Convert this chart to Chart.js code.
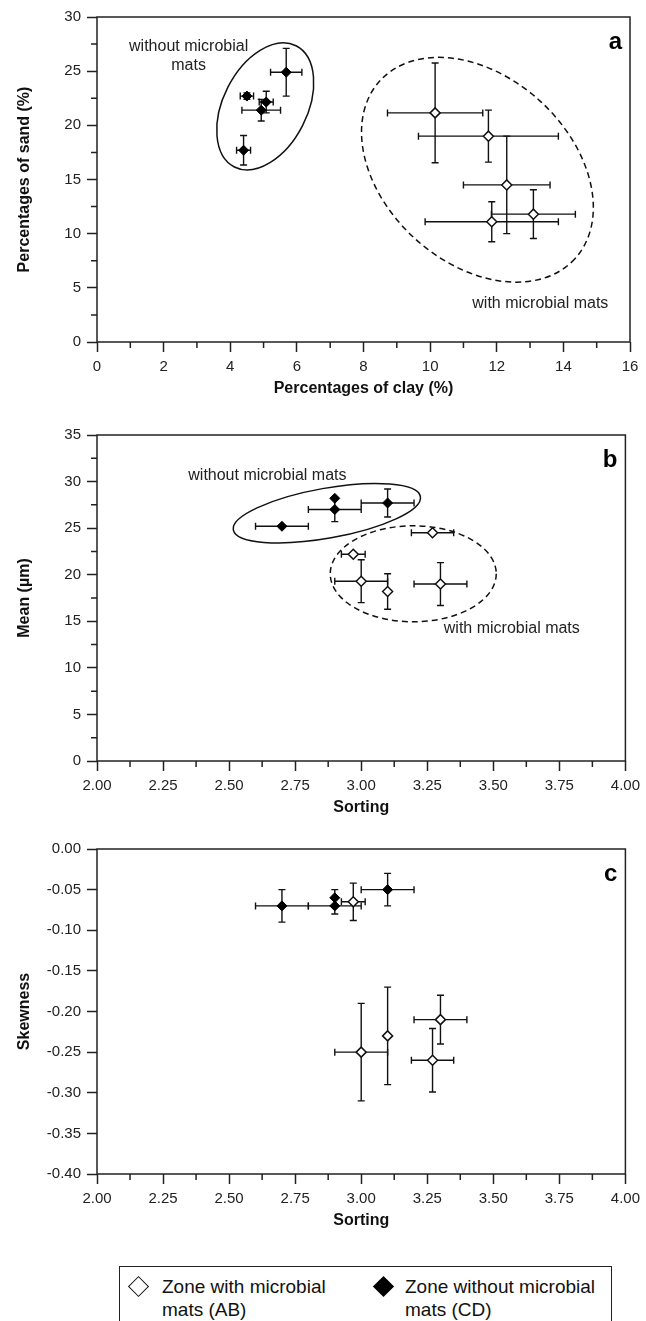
<!DOCTYPE html>
<html>
<head>
<meta charset="utf-8">
<script src="https://cdn.jsdelivr.net/npm/chart.js@4.4.1/dist/chart.umd.min.js"></script>
<style>
  body { margin: 0; background: #fff; width: 646px; height: 1321px; position: relative; overflow: hidden;
         font-family: "Liberation Sans", Arial, Helvetica, sans-serif; }
  canvas { position: absolute; left: 0; }
  #legend { position: absolute; left: 119px; top: 1266px; width: 493px; height: 70px;
            border: 1.5px solid #222; box-sizing: border-box; }
  #legend .mk { position: absolute; width: 15px; height: 15px; box-sizing: border-box; transform: rotate(45deg); }
  #legend .open { border: 1.5px solid #111; background: #fff; }
  #legend .fill { background: #000; }
  #legend .txt { position: absolute; font-size: 19px; line-height: 23px; color: #111; white-space: nowrap; }
</style>
</head>
<body>
<canvas id="chartA" width="646" height="405" style="top:0px"></canvas>
<canvas id="chartB" width="646" height="415" style="top:410px"></canvas>
<canvas id="chartC" width="646" height="422" style="top:828px"></canvas>
<div id="legend">
  <span class="mk open" style="left:11px;top:12px"></span>
  <div class="txt" style="left:42px;top:8px">Zone with microbial<br>mats (AB)</div>
  <span class="mk fill" style="left:256px;top:12px"></span>
  <div class="txt" style="left:285px;top:8px">Zone without microbial<br>mats (CD)</div>
</div>
<script>
// a: clay vs sand
const clayWith = [10.15, 11.75, 12.3, 11.85, 13.1];
const clayWithErr = [1.43, 2.1, 1.3, 2.0, 1.26];
const sandWith = [21.15, 19.0, 14.5, 11.1, 11.8];
const sandWithErr = [4.6, 2.4, 4.5, 1.85, 2.25];
const clayWithout = [5.68, 4.5, 5.08, 4.93, 4.4];
const clayWithoutErr = [0.47, 0.2, 0.21, 0.58, 0.21];
const sandWithout = [24.9, 22.7, 22.15, 21.4, 17.7];
const sandWithoutErr = [2.2, 0.3, 1.0, 1.0, 1.36];

// b and c share the sorting values
const sortingWith = [3.27, 2.97, 3.0, 3.1, 3.3];
const sortingWithErr = [0.08, 0.045, 0.1, 0, 0.1];
const sortingWithout = [2.7, 2.9, 2.9, 3.1];
const sortingWithoutErr = [0.1, 0, 0.1, 0.1];

const meanWith = [24.5, 22.2, 19.3, 18.2, 19.0];
const meanWithErr = [0, 0, 2.3, 1.9, 2.3];
const meanWithout = [25.2, 28.2, 27.0, 27.7];
const meanWithoutErr = [0, 0, 1.3, 1.5];

const skewWith = [-0.26, -0.065, -0.25, -0.23, -0.21];
const skewWithErr = [0.039, 0.023, 0.06, 0.06, 0.03];
const skewWithout = [-0.07, -0.06, -0.07, -0.05];
const skewWithoutErr = [0.02, 0.01, 0.01, 0.02];

Chart.defaults.font.family = '"Liberation Sans", Arial, Helvetica, sans-serif';
Chart.defaults.color = '#222';

const isMajor = (v, step) => Math.abs(v / step - Math.round(v / step)) < 1e-6;

function pts(xs, ys) {
  return xs.map((x, i) => ({ x: x, y: ys[i] }));
}

// error bars under the markers
const errorBars = {
  id: 'errorBars',
  beforeDatasetsDraw(chart) {
    const { ctx, scales: { x, y } } = chart;
    const cap = 3.5;
    ctx.save();
    ctx.strokeStyle = '#111';
    ctx.lineWidth = 1.4;
    chart.data.datasets.forEach(ds => {
      ds.data.forEach((p, i) => {
        const px = x.getPixelForValue(p.x), py = y.getPixelForValue(p.y);
        const xe = ds.xErr[i], ye = ds.yErr[i];
        ctx.beginPath();
        if (xe) {
          const l = x.getPixelForValue(p.x - xe), r = x.getPixelForValue(p.x + xe);
          ctx.moveTo(l, py); ctx.lineTo(r, py);
          ctx.moveTo(l, py - cap); ctx.lineTo(l, py + cap);
          ctx.moveTo(r, py - cap); ctx.lineTo(r, py + cap);
        }
        if (ye) {
          const t = y.getPixelForValue(p.y + ye), b = y.getPixelForValue(p.y - ye);
          ctx.moveTo(px, t); ctx.lineTo(px, b);
          ctx.moveTo(px - cap, t); ctx.lineTo(px + cap, t);
          ctx.moveTo(px - cap, b); ctx.lineTo(px + cap, b);
        }
        ctx.stroke();
      });
    });
    ctx.restore();
  }
};

// group outlines, notes, frame, minor ticks and panel letter
const decor = {
  id: 'decor',
  beforeDatasetsDraw(chart, args, opts) {
    const { ctx, scales: { x, y } } = chart;
    ctx.save();
    ctx.strokeStyle = '#111';
    ctx.lineWidth = 1.5;
    (opts.ellipses || []).forEach(e => {
      ctx.setLineDash(e.dashed ? [6, 4] : []);
      ctx.beginPath();
      ctx.ellipse(x.getPixelForValue(e.cx), y.getPixelForValue(e.cy), e.rx, e.ry, e.rot, 0, Math.PI * 2);
      ctx.stroke();
    });
    ctx.setLineDash([]);
    ctx.fillStyle = '#222';
    ctx.font = '16px "Liberation Sans", Arial, sans-serif';
    ctx.textBaseline = 'middle';
    (opts.notes || []).forEach(n => {
      ctx.textAlign = n.align || 'center';
      const px = x.getPixelForValue(n.x);
      let py = y.getPixelForValue(n.y);
      n.lines.forEach(line => { ctx.fillText(line, px, py); py += 19; });
    });
    ctx.restore();
  },
  afterDraw(chart, args, opts) {
    const { ctx, chartArea: a, scales: { x, y } } = chart;
    ctx.save();
    ctx.strokeStyle = '#222';
    ctx.lineWidth = 1.5;
    ctx.strokeRect(a.left, a.top, a.right - a.left, a.bottom - a.top);
    ctx.beginPath();
    x.ticks.forEach(t => {
      if (isMajor(t.value, opts.xMajor)) return;
      const px = x.getPixelForValue(t.value);
      ctx.moveTo(px, a.bottom); ctx.lineTo(px, a.bottom + 6);
    });
    y.ticks.forEach(t => {
      if (isMajor(t.value, opts.yMajor)) return;
      const py = y.getPixelForValue(t.value);
      ctx.moveTo(a.left - 6, py); ctx.lineTo(a.left, py);
    });
    ctx.stroke();
    ctx.fillStyle = '#000';
    ctx.font = 'bold 24px "Liberation Sans", Arial, sans-serif';
    ctx.textAlign = 'right';
    ctx.textBaseline = 'middle';
    ctx.fillText(opts.letter, a.right - 8, a.top + 25);
    ctx.restore();
  }
};

function axis(min, max, step, major, digits, title, titlePad) {
  return {
    type: 'linear', min: min, max: max,
    ticks: {
      stepSize: step, autoSkip: false, maxRotation: 0, padding: 6, color: '#222',
      font: { size: 15 },
      callback: v => isMajor(v, major) ? v.toFixed(digits) : ''
    },
    grid: {
      drawOnChartArea: false, tickLength: 10, tickWidth: 1.5,
      tickColor: c => isMajor(c.tick.value, major) ? '#222' : 'rgba(0,0,0,0)'
    },
    border: { display: false },
    title: { display: true, text: title, color: '#111', font: { size: 16, weight: 'bold' }, padding: titlePad }
  };
}

function makeChart(id, cfg) {
  const xAxis = axis(cfg.x[0], cfg.x[1], cfg.x[2], cfg.x[3], cfg.x[4], cfg.xTitle, { top: 0, bottom: cfg.xTitlePad });
  xAxis.afterFit = s => { s.height = cfg.xHeight; };
  const yAxis = axis(cfg.y[0], cfg.y[1], cfg.y[2], cfg.y[3], cfg.y[4], cfg.yTitle, { top: 15, bottom: 0 });
  yAxis.afterFit = s => { s.width = 97; };
  new Chart(document.getElementById(id), {
    type: 'scatter',
    data: {
      datasets: [{
        label: 'Zone with microbial mats (AB)',
        data: pts(cfg.withX, cfg.withY),
        xErr: cfg.withXErr, yErr: cfg.withYErr,
        pointStyle: 'rectRot', pointRadius: 5, pointHoverRadius: 5,
        backgroundColor: '#fff', borderColor: '#111', borderWidth: 1.5
      }, {
        label: 'Zone without microbial mats (CD)',
        data: pts(cfg.withoutX, cfg.withoutY),
        xErr: cfg.withoutXErr, yErr: cfg.withoutYErr,
        pointStyle: 'rectRot', pointRadius: 5, pointHoverRadius: 5,
        backgroundColor: '#000', borderColor: '#000', borderWidth: 1
      }]
    },
    options: {
      responsive: false,
      animation: false,
      layout: { autoPadding: false, padding: { top: cfg.top, right: 16, bottom: 0, left: 0 } },
      scales: { x: xAxis, y: yAxis },
      plugins: {
        legend: { display: false },
        tooltip: { enabled: false },
        decor: { letter: cfg.letter, xMajor: cfg.x[3], yMajor: cfg.y[3], ellipses: cfg.ellipses, notes: cfg.notes }
      }
    },
    plugins: [errorBars, decor]
  });
}

makeChart('chartA', {
  letter: 'a', top: 17, xHeight: 63, xTitlePad: 7,
  x: [0, 16, 1, 2, 0], y: [0, 30, 2.5, 5, 0],
  xTitle: 'Percentages of clay (%)', yTitle: 'Percentages of sand (%)',
  withX: clayWith, withY: sandWith, withXErr: clayWithErr, withYErr: sandWithErr,
  withoutX: clayWithout, withoutY: sandWithout, withoutXErr: clayWithoutErr, withoutYErr: sandWithoutErr,
  ellipses: [
    { cx: 5.05, cy: 21.75, rx: 42, ry: 68, rot: 0.47 },
    { cx: 11.42, cy: 15.9, rx: 132, ry: 93, rot: 0.74, dashed: true }
  ],
  notes: [
    { x: 2.75, y: 27.3, lines: ['without microbial', 'mats'] },
    { x: 15.35, y: 3.5, lines: ['with microbial mats'], align: 'right' }
  ]
});

makeChart('chartB', {
  letter: 'b', top: 25, xHeight: 64, xTitlePad: 8,
  x: [2, 4, 0.125, 0.25, 2], y: [0, 35, 2.5, 5, 0],
  xTitle: 'Sorting', yTitle: 'Mean (\u00b5m)',
  withX: sortingWith, withY: meanWith, withXErr: sortingWithErr, withYErr: meanWithErr,
  withoutX: sortingWithout, withoutY: meanWithout, withoutXErr: sortingWithoutErr, withoutYErr: meanWithoutErr,
  ellipses: [
    { cx: 2.87, cy: 26.6, rx: 95, ry: 25, rot: -0.176 },
    { cx: 3.197, cy: 20.1, rx: 83, ry: 48, rot: 0, dashed: true }
  ],
  notes: [
    { x: 2.645, y: 30.6, lines: ['without microbial mats'] },
    { x: 3.57, y: 14.2, lines: ['with microbial mats'] }
  ]
});

makeChart('chartC', {
  letter: 'c', top: 21, xHeight: 76, xTitlePad: 20,
  x: [2, 4, 0.125, 0.25, 2], y: [-0.4, 0, 0.05, 0.05, 2],
  xTitle: 'Sorting', yTitle: 'Skewness',
  withX: sortingWith, withY: skewWith, withXErr: sortingWithErr, withYErr: skewWithErr,
  withoutX: sortingWithout, withoutY: skewWithout, withoutXErr: sortingWithoutErr, withoutYErr: skewWithoutErr,
  ellipses: [],
  notes: []
});
</script>
</body>
</html>
